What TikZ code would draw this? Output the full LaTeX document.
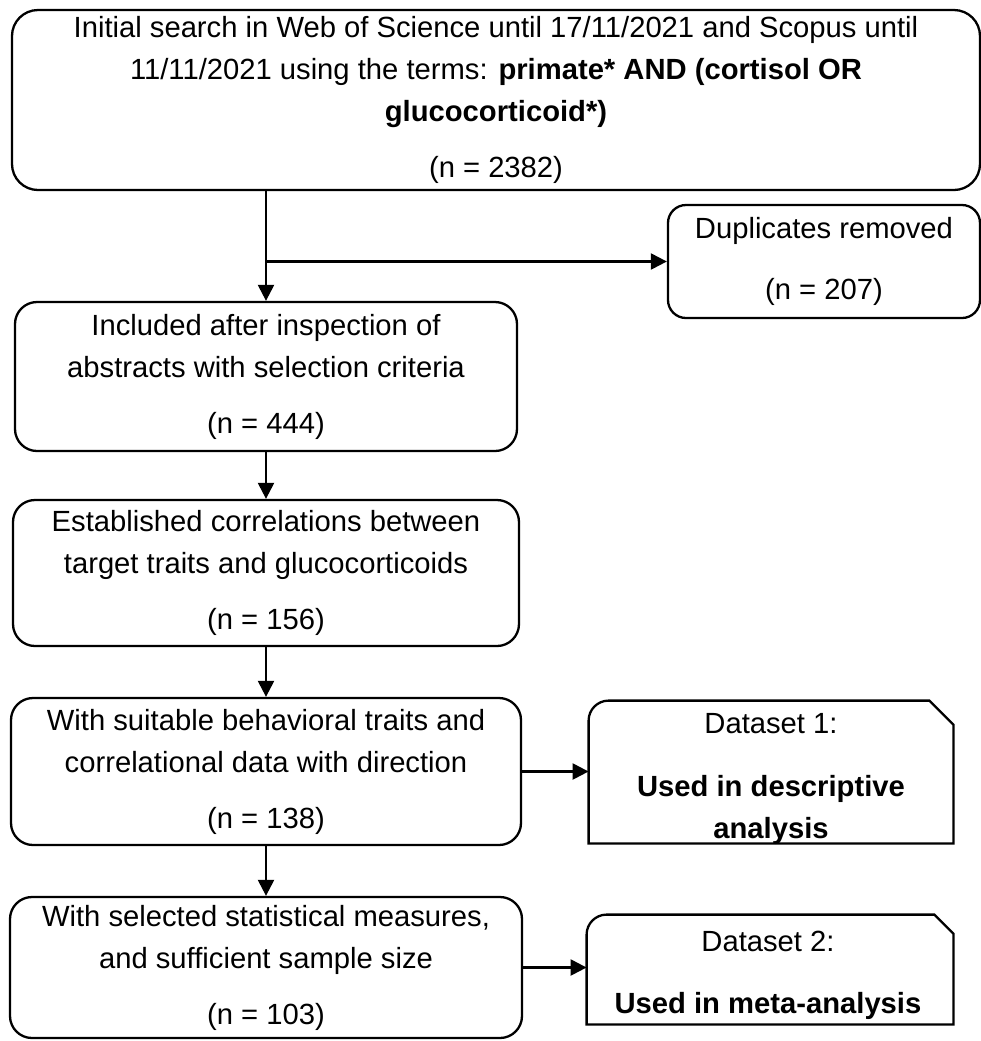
\documentclass[tikz,border=0pt]{standalone}
\usepackage{fontspec}
\setmainfont{Liberation Sans}
\usetikzlibrary{arrows.meta,calc}
\tikzset{
  box/.style={draw, line width=1.15pt, rounded corners=11pt, align=center, inner sep=0pt,
    font=\fontsize{14.6}{21}\selectfont},
  dshape/.style={draw=none, inner sep=0pt},
  dtext/.style={align=center, inner sep=0pt, font=\fontsize{14.6}{21}\selectfont},
  dline/.style={line width=1.15pt},
  conn/.style={line width=1.15pt, -{Triangle[length=8pt,width=8pt]}},
}
\begin{document}
\begin{tikzpicture}[x=0.5pt,y=-0.5pt]
\useasboundingbox (0,0) rectangle (981,1041);
\node[box, rounded corners=13pt, minimum width=484pt, minimum height=90pt] (s) at (496,100)
  {Initial search in Web of Science until 17/11/2021 and Scopus until\\
   11/11/2021 using the terms: \textbf{primate* AND (cortisol OR}\\
   \textbf{glucocorticoid*)}\\[7pt]
   (n = 2382)};
\node[box, rounded corners=9pt, minimum width=156pt, minimum height=56.5pt] (dup) at (824,261.5)
  {Duplicates removed\\[9.5pt](n = 207)};
\node[box, minimum width=251pt, minimum height=74.5pt] (b2) at (266,376.5)
  {Included after inspection of\\abstracts with selection criteria\\[7pt](n = 444)};
\node[box, minimum width=253pt, minimum height=73pt] (b3) at (266,573)
  {Established correlations between\\target traits and glucocorticoids\\[7pt](n = 156)};
\node[box, minimum width=255pt, minimum height=73.5pt] (b4) at (266,771.5)
  {With suitable behavioral traits and\\correlational data with direction\\[7pt](n = 138)};
\node[box, minimum width=256pt, minimum height=70.5pt] (b5) at (266,967.5)
  {With selected statistical measures,\\and sufficient sample size\\[7pt](n = 103)};
\node[dshape, minimum width=182pt, minimum height=71pt] (d1) at (771,772) {};
\node[dtext] (d1t) at (771,779)
  {Dataset 1:\\[10.5pt]\textbf{Used in descriptive}\\\textbf{analysis}};
\node[dshape, minimum width=183pt, minimum height=54.5pt] (d2) at (770,969.5) {};
\node[dtext] (d2t) at (768,975)
  {Dataset 2:\\[10pt]\textbf{Used in meta-analysis}};
\draw[dline] (d1.west) [rounded corners=10pt] -- (d1.north west) -- (d1.north) [sharp corners]
  -- ($(d1.north east)+(-24,0)$) -- ($(d1.north east)+(0,24)$) -- (d1.south east) -- (d1.south west) -- cycle;
\draw[dline] (d2.west) [rounded corners=10pt] -- (d2.north west) -- (d2.north) [sharp corners]
  -- ($(d2.north east)+(-19,0)$) -- ($(d2.north east)+(0,19)$) -- (d2.south east) -- (d2.south west) -- cycle;
\draw[conn] (s.south -| b2.north) -- (b2.north);
\coordinate (j) at (b2.north |- dup.west);
\draw[conn] (j) -- (dup.west);
\draw[conn] (b2.south) -- (b3.north);
\draw[conn] (b3.south) -- (b4.north);
\draw[conn] (b4.south) -- (b5.north);
\draw[conn] (b4.east) -- (b4.east -| d1.west);
\draw[conn] (b5.east) -- (b5.east -| d2.west);
\end{tikzpicture}
\end{document}
